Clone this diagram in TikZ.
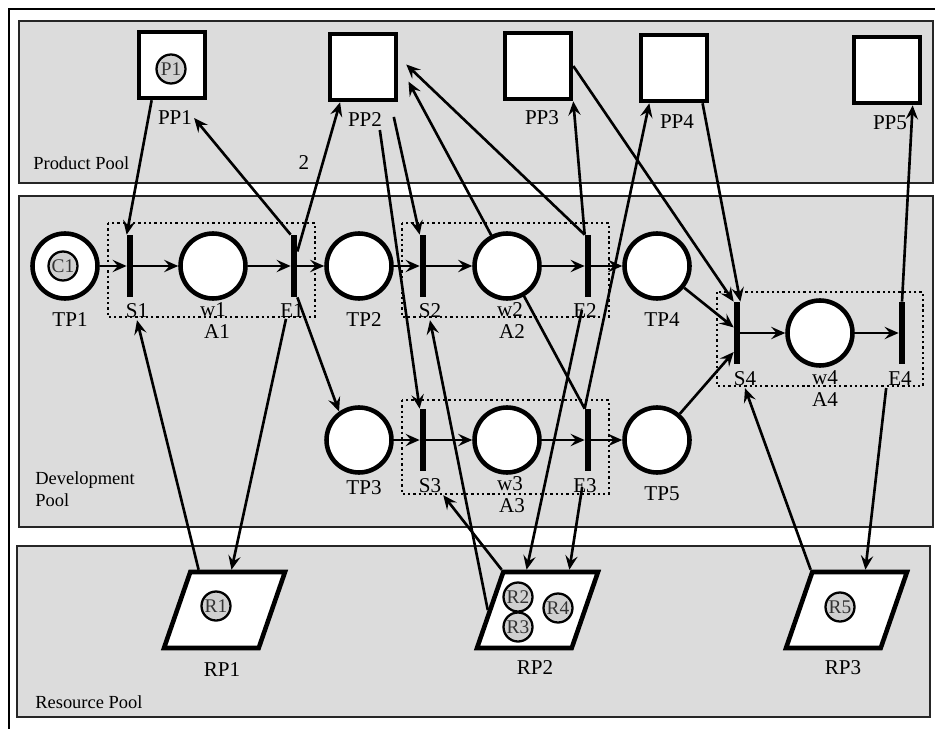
\documentclass[tikz,border=0pt]{standalone}
\usepackage{fontspec}
\setmainfont{Liberation Serif}
\usepackage{tikz}
\usetikzlibrary{positioning,arrows.meta,shapes.geometric,calc}

\pgfdeclarelayer{pools}
\pgfdeclarelayer{arcs}
\pgfsetlayers{pools,arcs,main}

\definecolor{poolgray}{RGB}{220,220,220}
\definecolor{tokengray}{RGB}{208,208,208}

\begin{document}
\begin{tikzpicture}[
  x=0.02cm, y=-0.02cm,
  pool/.style={draw=black!85, line width=0.7pt, fill=poolgray},
  outline/.style={line width=1.4pt},
  placenode/.style={circle, draw, line width=2.6pt, fill=white, minimum size=1.3cm, inner sep=0pt},
  prodbox/.style={rectangle, draw, line width=2.6pt, fill=white, minimum size=1.32cm, inner sep=0pt},
  resbox/.style={
    trapezium, trapezium left angle=69, trapezium right angle=111,
    trapezium stretches=true, draw, line width=2.6pt, fill=white,
    minimum width=2.42cm, minimum height=1.52cm, inner sep=2pt
  },
  transbar/.style={rectangle, fill=black, minimum width=0.12cm, minimum height=1.24cm, inner sep=0pt},
  tokennode/.style={
    circle, draw, line width=1.3pt, fill=tokengray, minimum size=0.58cm,
    inner sep=0pt, text=black!80, font=\fontsize{11}{11}\selectfont
  },
  lbl/.style={inner sep=1pt, font=\fontsize{12}{13}\selectfont},
  poolname/.style={inner sep=0pt, anchor=west, align=left, font=\fontsize{10.5}{12.5}\selectfont},
  actbox/.style={draw, line width=1.3pt, dash pattern=on 1.3pt off 1.7pt},
  arrow/.style={-{Stealth[length=8pt,width=7pt,inset=3pt]}, line width=1.5pt}
]
  \useasboundingbox (0,0) rectangle (935,729);

  % pools
  \begin{pgfonlayer}{pools}
    \draw[outline] (9,729) -- (9,9) -- (935,9);
    \draw[pool] (19,21) rectangle (933,183);
    \draw[pool] (19,196) rectangle (933,527);
    \draw[pool] (17,546) rectangle (930,717);
  \end{pgfonlayer}
  \node[poolname] (prodname) at (33,163) {Product Pool};
  \node[poolname] (devname) at (35,489) {Development\\Pool};
  \node[poolname] (resname) at (35,702) {Resource Pool};

  % activities
  \draw[actbox] (108,223) rectangle (315,317);
  \draw[actbox] (402,223) rectangle (609,317);
  \draw[actbox] (402,400) rectangle (609,494);
  \draw[actbox] (717,292) rectangle (923,386);

  % product pools
  \node[prodbox] (pp1) at (172,65) {};
  \node[prodbox] (pp2) at (363,67) {};
  \node[prodbox] (pp3) at (538,66) {};
  \node[prodbox] (pp4) at (674,68) {};
  \node[prodbox] (pp5) at (887,70) {};
  \node[tokennode] (p1) at (171,69) {P1};
  \node[lbl] (pp1lab) at (175,118) {PP1};
  \node[lbl] (pp2lab) at (365,120) {PP2};
  \node[lbl] (pp3lab) at (542,118) {PP3};
  \node[lbl] (pp4lab) at (677,122) {PP4};
  \node[lbl] (pp5lab) at (890,123) {PP5};
  \node[lbl] (weight) at (304,163) {2};

  % places and transitions
  \node[placenode] (tp1) at (65,266) {};
  \node[tokennode] (c1) at (63,266) {C1};
  \node[transbar] (s1) at (130,266) {};
  \node[placenode] (w1) at (213,266) {};
  \node[transbar] (e1) at (294,266) {};
  \node[placenode] (tp2) at (359,266) {};
  \node[transbar] (s2) at (423,266) {};
  \node[placenode] (w2) at (507,266) {};
  \node[transbar] (e2) at (588,266) {};
  \node[placenode] (tp4) at (657,266) {};
  \node[placenode] (tp3) at (359,440) {};
  \node[transbar] (s3) at (423,440) {};
  \node[placenode] (w3) at (507,440) {};
  \node[transbar] (e3) at (588,440) {};
  \node[placenode] (tp5) at (657,440) {};
  \node[transbar] (s4) at (737,333) {};
  \node[placenode] (w4) at (820,333) {};
  \node[transbar] (e4) at (902,333) {};

  \node[lbl] (tp1lab) at (70,320) {TP1};
  \node[lbl] (s1lab) at (137,311) {S1};
  \node[lbl] (w1lab) at (213,310) {w1};
  \node[lbl] (e1lab) at (292,311) {E1};
  \node[lbl] (a1lab) at (217,332) {A1};
  \node[lbl] (tp2lab) at (364,320) {TP2};
  \node[lbl] (s2lab) at (430,311) {S2};
  \node[lbl] (w2lab) at (510,310) {w2};
  \node[lbl] (e2lab) at (585,311) {E2};
  \node[lbl] (a2lab) at (512,332) {A2};
  \node[lbl] (tp4lab) at (662,320) {TP4};
  \node[lbl] (tp3lab) at (364,488) {TP3};
  \node[lbl] (s3lab) at (430,486) {S3};
  \node[lbl] (w3lab) at (510,484) {w3};
  \node[lbl] (e3lab) at (585,486) {E3};
  \node[lbl] (a3lab) at (512,506) {A3};
  \node[lbl] (tp5lab) at (662,494) {TP5};
  \node[lbl] (s4lab) at (745,379) {S4};
  \node[lbl] (w4lab) at (825,378) {w4};
  \node[lbl] (e4lab) at (900,379) {E4};
  \node[lbl] (a4lab) at (825,400) {A4};

  % resource pools
  \node[resbox] (rp1) at (224.5,610) {};
  \node[resbox] (rp2) at (537.5,610) {};
  \node[resbox] (rp3) at (846.5,610) {};
  \node[tokennode] (r1) at (216,606) {R1};
  \node[tokennode] (r2) at (518,597) {R2};
  \node[tokennode] (r3) at (518,627) {R3};
  \node[tokennode] (r4) at (558,608) {R4};
  \node[tokennode] (r5) at (840,607) {R5};
  \node[lbl] (rp1lab) at (222,670) {RP1};
  \node[lbl] (rp2lab) at (535,668) {RP2};
  \node[lbl] (rp3lab) at (843,668) {RP3};

  % arcs
  \begin{pgfonlayer}{arcs}
    \foreach \a/\b in {tp1/s1, s1/w1, w1/e1, e1/tp2, tp2/s2, s2/w2, w2/e2, e2/tp4,
                       tp3/s3, s3/w3, w3/e3, e3/tp5, s4/w4, w4/e4}
      \draw[arrow] (\a) -- (\b);

    \draw[arrow] (pp1.240) -- (s1.north west);
    \draw[arrow] (e1.north west) -- (pp1lab.east);
    \draw[arrow] (e1.77) -- (pp2.237);
    \draw[arrow, shorten <=0.3cm] (pp2.308) -- (s2.north west);
    \draw[arrow, shorten <=0.56cm] (pp2.290) -- (s3.north west);
    \draw[arrow, shorten >=0.43cm] (e3.north west) -- (pp2.7);
    \draw[arrow, shorten >=0.22cm] (e2.north west) -- (pp2.16);
    \draw[arrow] (e2.north west) -- (pp3.south east);
    \draw[arrow] (pp3.east) -- (s4.north west);
    \draw[arrow] (pp4.-51) -- (s4.north east);
    \draw[arrow] (e3.north west) -- (pp4.235);
    \draw[arrow] (e4.north) -- (pp5.-54);

    \draw[arrow] (e1.south east) -- (tp3.125);
    \draw[arrow] (tp4) -- (s4.121);
    \draw[arrow] (tp5) -- (s4.260);

    \draw[arrow] ($(rp1.top left corner)!0.1!(rp1.top right corner)$) -- (s1lab.south);
    \draw[arrow, shorten <=0.44cm] (e1.south west) -- ($(rp1.top left corner)!0.43!(rp1.top right corner)$);
    \draw[arrow, shorten <=0.26cm] (e2.south west) -- ($(rp2.top left corner)!0.25!(rp2.top right corner)$);
    \draw[arrow, shorten <=0.32cm] (e3.south west) -- ($(rp2.top left corner)!0.68!(rp2.top right corner)$);
    \draw[arrow] (rp2.top left corner) -- (s3lab.south east);
    \draw[arrow] (rp2.west) -- (s2lab.south);
    \draw[arrow] (rp3.top left corner) -- (s4lab.south);
    \draw[arrow] (e4lab.south west) -- ($(rp3.top left corner)!0.55!(rp3.top right corner)$);
  \end{pgfonlayer}
\end{tikzpicture}
\end{document}
